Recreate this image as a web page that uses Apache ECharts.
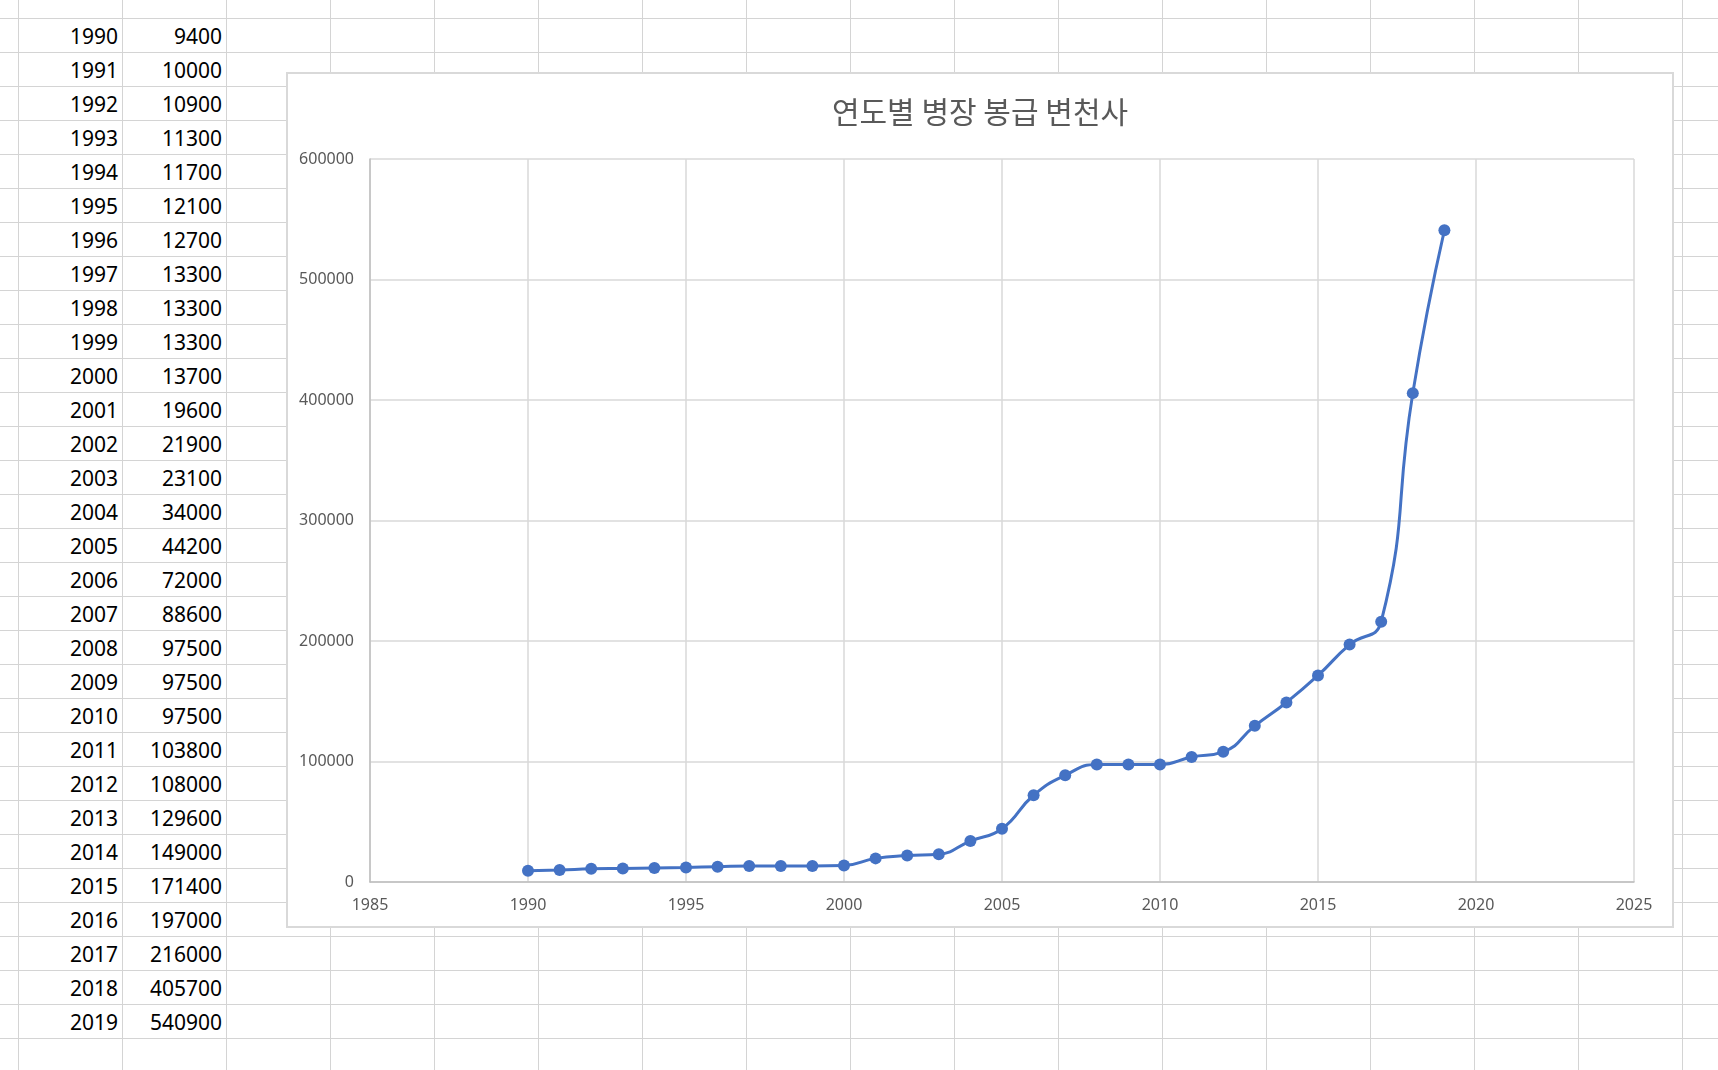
<!DOCTYPE html>
<html>
<head>
<meta charset="utf-8">
<title>연도별 병장 봉급 변천사</title>
<script src="https://cdn.jsdelivr.net/npm/echarts@6/dist/echarts.min.js"></script>
<style>
    html, body {
        margin: 0;
        padding: 0;
        width: 1718px;
        height: 1070px;
        overflow: hidden;
        background-color: #fff;
        background-image: linear-gradient(to right, #d4d4d4 1px, transparent 1px),
                          linear-gradient(to bottom, #d4d4d4 1px, transparent 1px);
        background-size: 104px 34px;
        background-position: 18px 18px;
        font-family: "Noto Sans", sans-serif;
    }
    .cell {
        position: absolute;
        width: 99px;
        height: 33px;
        line-height: 34px;
        padding-right: 4px;
        text-align: right;
        font-size: 21px;
        color: #000;
        background: #fff;
    }
    #chart {
        position: absolute;
        left: 286px;
        top: 72px;
        width: 1388px;
        height: 856px;
        border: 2px solid #d9d9d9;
        box-sizing: border-box;
        background: #fff;
    }
</style>
</head>
<body>
<div id="sheet"></div>
<div id="chart"></div>
<script>
    // 연도별 병장 월급 (원)
    const years = [1990, 1991, 1992, 1993, 1994, 1995, 1996, 1997, 1998, 1999,
        2000, 2001, 2002, 2003, 2004, 2005, 2006, 2007, 2008, 2009,
        2010, 2011, 2012, 2013, 2014, 2015, 2016, 2017, 2018, 2019];
    const pay = [9400, 10000, 10900, 11300, 11700, 12100, 12700, 13300, 13300, 13300,
        13700, 19600, 21900, 23100, 34000, 44200, 72000, 88600, 97500, 97500,
        97500, 103800, 108000, 129600, 149000, 171400, 197000, 216000, 405700, 540900];

    const chartTitle = '연도별 병장 봉급 변천사';

    // spreadsheet cells (B, C columns)
    const sheet = document.getElementById('sheet');
    years.forEach((y, i) => {
        const top = 19 + 34 * i;
        let a = document.createElement('div');
        a.className = 'cell';
        a.style.left = '19px';
        a.style.top = top + 'px';
        a.textContent = y;
        sheet.appendChild(a);
        let b = document.createElement('div');
        b.className = 'cell';
        b.style.left = '123px';
        b.style.top = top + 'px';
        b.textContent = pay[i];
        sheet.appendChild(b);
    });

    let myChart = echarts.init(document.getElementById('chart'));
    let option = {
        animation: false,
        backgroundColor: '#fff',
        title: {
            text: chartTitle,
            left: 'center',
            top: 18,
            textStyle: {
                fontFamily: '"Noto Sans CJK KR", sans-serif',
                fontSize: 30,
                fontWeight: 'normal',
                color: '#595959'
            }
        },
        grid: {
            left: 82,
            right: 38,
            top: 85,
            bottom: 44
        },
        xAxis: {
            type: 'value',
            min: 1985,
            max: 2025,
            interval: 5,
            axisLine: {show: true, onZero: false, lineStyle: {color: '#bfbfbf', width: 1.5}},
            axisTick: {show: false},
            splitLine: {show: true, lineStyle: {color: '#d9d9d9', width: 1.5}},
            axisLabel: {
                margin: 15,
                color: '#595959',
                fontSize: 16,
                fontFamily: '"Noto Sans", sans-serif',
                formatter: v => String(v)
            }
        },
        yAxis: {
            type: 'value',
            min: 0,
            max: 600000,
            interval: 100000,
            axisLine: {show: true, lineStyle: {color: '#bfbfbf', width: 1.5}},
            axisTick: {show: false},
            splitLine: {show: true, lineStyle: {color: '#d9d9d9', width: 1.5}},
            axisLabel: {
                margin: 16,
                color: '#595959',
                fontSize: 16,
                fontFamily: '"Noto Sans", sans-serif',
                formatter: v => String(v)
            }
        },
        series: [
            {
                type: 'line',
                data: years.map((y, i) => [y, pay[i]]),
                smooth: 0.5,
                symbol: 'circle',
                symbolSize: 12,
                itemStyle: {color: '#4472c4'},
                lineStyle: {color: '#4472c4', width: 3}
            }
        ]
    };
    myChart.setOption(option);
</script>
</body>
</html>
